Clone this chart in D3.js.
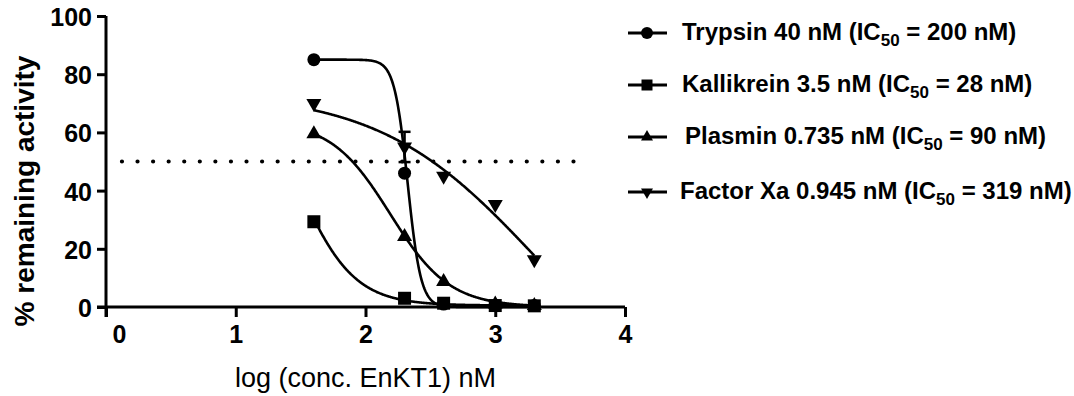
<!DOCTYPE html>
<html>
<head>
<meta charset="utf-8">
<script src="https://cdn.jsdelivr.net/npm/d3@7"></script>
<style>
  html, body { margin: 0; padding: 0; background: #fff; }
  svg { display: block; font-family: "Liberation Sans", Arial, Helvetica, sans-serif; }
</style>
</head>
<body>
<svg id="chart" width="1074" height="396"></svg>
<script>
// ---------------- data ----------------
const concentrations = [40, 200, 400, 1000, 2000];            // nM EnKT1
const seriesNames = ["Trypsin 40 nM", "Kallikrein 3.5 nM", "Plasmin 0.735 nM", "Factor Xa 0.945 nM"];
const ic50Labels = ["200 nM", "28 nM", "90 nM", "319 nM"];
const trypsin    = [85, 46, 1.0, 0.5, 0.5];
const kallikrein = [29.3, 3.0, 1.3, 0.5, 0.4];
const plasmin    = [59.5, 24.2, 8.7, 1.0, 0.5];
const factorXa   = [70, 55, 45, 35.3, 16.3];
const factorXaErr = [0, 5.2, 0, 0, 0];
// nonlinear (4-parameter) fit results per series
const fitTop    = [85, 85, 64, 74];
const fitBottom = [0, 0.5, 0, -40];
const fitLogIC  = [2.325, 1.47, 2.19, 3.315];
const fitHill   = [8.5, 2.0, 1.9, 0.7175];
const xTicks = [0, 1, 2, 3, 4];
const yTicks = [0, 20, 40, 60, 80, 100];
const cutoffLevel = 50;

// ---------------- layout ----------------
const svg = d3.select("#chart");
const x = d3.scaleLinear().domain([0, 4]).range([106, 625]);
const y = d3.scaleLinear().domain([0, 100]).range([307, 16]);
const logX = concentrations.map(c => Math.log10(c));
const values = [trypsin, kallikrein, plasmin, factorXa];
const errs = [null, null, null, factorXaErr];
const symbols = ["circle", "square", "triangle", "triangleDown"];

function markerPath(kind, s) {
  if (kind === "circle") return d3.symbol(d3.symbolCircle, Math.PI * (s/2) * (s/2))();
  if (kind === "square") return d3.symbol(d3.symbolSquare, s * s)();
  return d3.symbol(d3.symbolTriangle, s * s * Math.sqrt(3) / 4)();
}
function markerTransform(kind, px, py) {
  return kind === "triangleDown" ? `translate(${px},${py}) rotate(180)` : `translate(${px},${py})`;
}

// cutoff dotted line
const dotX0 = 0.123, dotX1 = 3.603;
const dotLen = x(dotX1) - x(dotX0);
svg.append("line")
  .attr("x1", x(dotX0)).attr("x2", x(dotX1))
  .attr("y1", y(cutoffLevel)).attr("y2", y(cutoffLevel))
  .attr("stroke", "#000").attr("stroke-width", 4.2)
  .attr("stroke-linecap", "round")
  .attr("stroke-dasharray", `0 ${dotLen / 29}`);

// fitted curves
const line = d3.line().x(d => x(d[0])).y(d => y(d[1]));
values.forEach((vals, i) => {
  const x0 = d3.min(logX), x1 = d3.max(logX);
  const pts = d3.range(0, 401).map(k => {
    const lx = x0 + (x1 - x0) * k / 400;
    const v = fitBottom[i] + (fitTop[i] - fitBottom[i]) / (1 + Math.pow(10, (lx - fitLogIC[i]) * fitHill[i]));
    return [lx, v];
  });
  svg.append("path").attr("d", line(pts))
    .attr("fill", "none").attr("stroke", "#000").attr("stroke-width", 2.6);
});

// error bars
values.forEach((vals, i) => {
  if (!errs[i]) return;
  vals.forEach((v, j) => {
    const e = errs[i][j];
    if (!e) return;
    const g = svg.append("g").attr("stroke", "#000").attr("stroke-width", 2.5);
    g.append("line").attr("x1", x(logX[j])).attr("x2", x(logX[j])).attr("y1", y(v - e)).attr("y2", y(v + e));
    g.append("line").attr("x1", x(logX[j]) - 6).attr("x2", x(logX[j]) + 6).attr("y1", y(v + e)).attr("y2", y(v + e));
    g.append("line").attr("x1", x(logX[j]) - 6).attr("x2", x(logX[j]) + 6).attr("y1", y(v - e)).attr("y2", y(v - e));
  });
});

// markers
const markerSize = { circle: 13, square: 13, triangle: 15, triangleDown: 15 };
values.forEach((vals, i) => {
  svg.append("g").selectAll("path").data(vals).join("path")
    .attr("d", markerPath(symbols[i], markerSize[symbols[i]]))
    .attr("transform", (v, j) => markerTransform(symbols[i], x(logX[j]), y(v)))
    .attr("fill", "#000");
});

// axes
const xAxis = d3.axisBottom(x).tickValues(xTicks).tickFormat(d3.format("d")).tickSize(10).tickPadding(8);
const yAxis = d3.axisLeft(y).tickValues(yTicks).tickFormat(d3.format("d")).tickSize(9).tickPadding(5);

const gx = svg.append("g").attr("transform", `translate(0,${y(0)})`).call(xAxis);
const gy = svg.append("g").attr("transform", `translate(${x(0)},0)`).call(yAxis);
[gx, gy].forEach(g => {
  g.select(".domain").attr("stroke", "#000").attr("stroke-width", 3);
  g.selectAll(".tick line").attr("stroke", "#000").attr("stroke-width", 3);
  g.selectAll(".tick text").attr("fill", "#000").attr("font-size", 25).attr("font-weight", "bold")
    .attr("font-family", "'Liberation Sans', Arial, sans-serif");
});
gx.select(".domain").attr("d", `M${x(0) - 9},0H${x(4)}`);
gy.select(".domain").attr("d", `M0,${y(100)}V${y(0) + 10}`);
gy.selectAll(".tick text").attr("dy", "0.38em");
gx.selectAll(".tick text").filter(d => d === 0).attr("x", 13);

// axis titles
svg.append("text")
  .attr("transform", `translate(34,191) rotate(-90)`)
  .attr("text-anchor", "middle")
  .attr("font-size", 28).attr("font-weight", "bold")
  .text("% remaining activity");

svg.append("text")
  .attr("x", (x(0) + x(4)) / 2).attr("y", 387)
  .attr("text-anchor", "middle")
  .attr("font-size", 27)
  .text("log (conc. EnKT1) nM");

// legend
const legRowY = [33, 85, 137, 192];
const legTextX = [682, 682, 685, 680];
const leg = svg.append("g");
seriesNames.forEach((name, i) => {
  const cy = legRowY[i];
  leg.append("line").attr("x1", 628).attr("x2", 667).attr("y1", cy).attr("y2", cy)
    .attr("stroke", "#000").attr("stroke-width", 3);
  leg.append("path").attr("d", markerPath(symbols[i], symbols[i] === "square" ? 11 : 12))
    .attr("transform", markerTransform(symbols[i], 647, cy)).attr("fill", "#000");
  const t = leg.append("text").attr("x", legTextX[i]).attr("y", cy + 7)
    .attr("font-size", 24).attr("font-weight", "bold");
  t.append("tspan").text(name + " (IC");
  t.append("tspan").attr("font-size", 17).attr("dy", 6).text("50");
  t.append("tspan").attr("dy", -6).text(" = " + ic50Labels[i] + ")");
});
</script>
</body>
</html>
